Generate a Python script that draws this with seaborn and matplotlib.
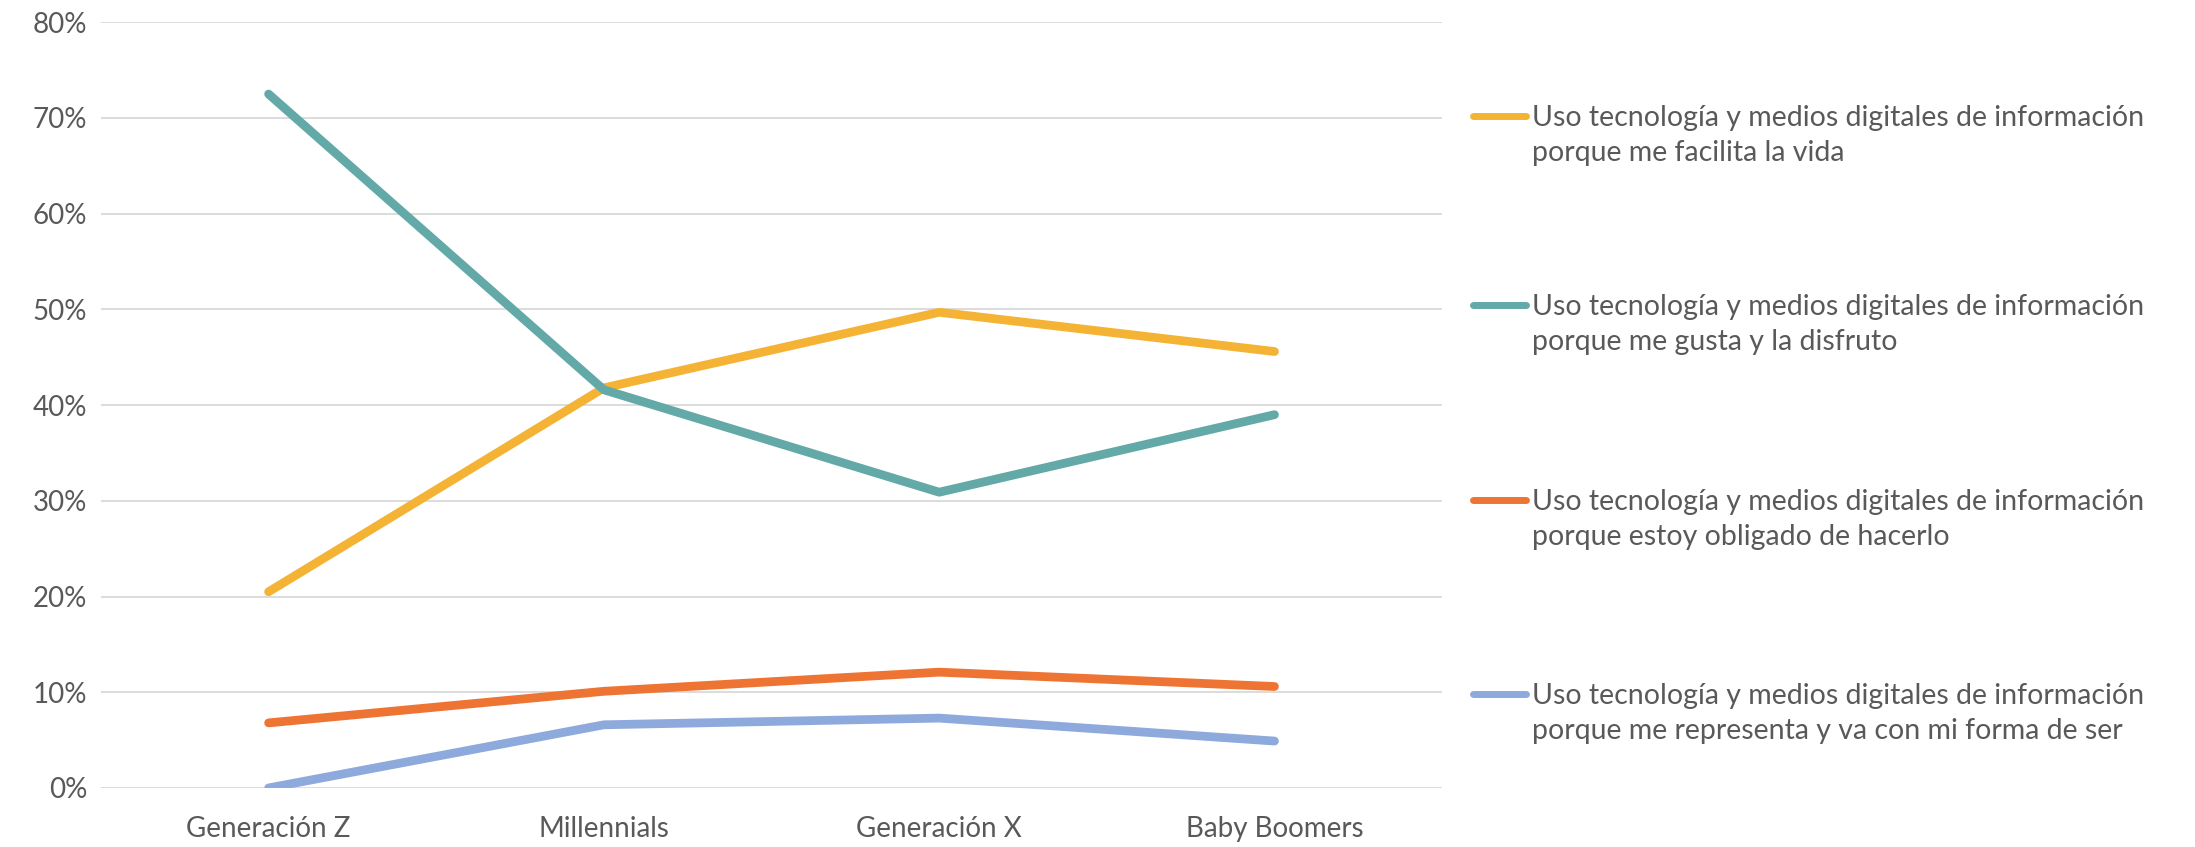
import numpy as np
import pandas as pd
import matplotlib
matplotlib.use("Agg")
import matplotlib.pyplot as plt
from matplotlib.lines import Line2D
from matplotlib.ticker import PercentFormatter
import seaborn as sns

GENERATIONS = ["Generación Z", "Millennials", "Generación X", "Baby Boomers"]

SERIES_LABELS = [
    "Uso tecnología y medios digitales de información\nporque me facilita la vida",
    "Uso tecnología y medios digitales de información\nporque me gusta y la disfruto",
    "Uso tecnología y medios digitales de información\nporque estoy obligado de hacerlo",
    "Uso tecnología y medios digitales de información\nporque me representa y va con mi forma de ser",
]

facilita  = [20.5, 41.8, 49.7, 45.6]
disfruto  = [72.5, 41.6, 30.9, 39.0]
obligado  = [6.8, 10.1, 12.1, 10.6]
represent = [0.0, 6.6, 7.3, 4.9]

COLORS = ["#F5B335", "#62A9A8", "#EE7434", "#8EAADC"]
TEXT_COLOR = "#595959"

sns.set_theme(style="white")
plt.rcParams["font.family"] = ["Lato", "DejaVu Sans"]

rows = []
for label, vals in zip(SERIES_LABELS, [facilita, disfruto, obligado, represent]):
    for i, (gen, v) in enumerate(zip(GENERATIONS, vals)):
        rows.append({"pos": i, "gen": gen, "serie": label, "valor": v})
df = pd.DataFrame(rows)

fig = plt.figure(figsize=(21.95, 8.47), dpi=100)
ax = fig.add_axes([0.046, 0.0697, 0.611, 0.904])

sns.lineplot(
    data=df, x="pos", y="valor", hue="serie",
    palette=COLORS, linewidth=6.3, legend=False,
    solid_capstyle="round", solid_joinstyle="round", ax=ax,
)

ax.set_xlim(-0.5, 3.5)
ax.set_ylim(0, 80)
ax.set_yticks(np.arange(0, 81, 10))
ax.yaxis.set_major_formatter(PercentFormatter(decimals=0))
ax.set_xticks(range(len(GENERATIONS)))
ax.set_xticklabels(GENERATIONS)
ax.set_xlabel("")
ax.set_ylabel("")
ax.tick_params(axis="both", length=0, labelsize=20, colors=TEXT_COLOR)
ax.tick_params(axis="x", pad=20)
ax.tick_params(axis="y", pad=10)
ax.grid(axis="y", color="#D9D9D9", linewidth=1.3)
ax.set_axisbelow(True)
for s in ax.spines.values():
    s.set_visible(False)

# legend, handle aligned with the first text line
leg_top = [116, 305, 500, 694]
for color, label, ypix in zip(COLORS, SERIES_LABELS, leg_top):
    yf = 1 - ypix / 847
    fig.add_artist(Line2D([1473 / 2195, 1526 / 2195], [yf, yf], color=color,
                          linewidth=5, solid_capstyle="round",
                          transform=fig.transFigure))
    fig.text(1532 / 2195, yf + 11 / 847, label, fontsize=20.5, color=TEXT_COLOR,
             va="top", ha="left", linespacing=1.45,
             transform=fig.transFigure)

fig.savefig("out.png", dpi=100)
